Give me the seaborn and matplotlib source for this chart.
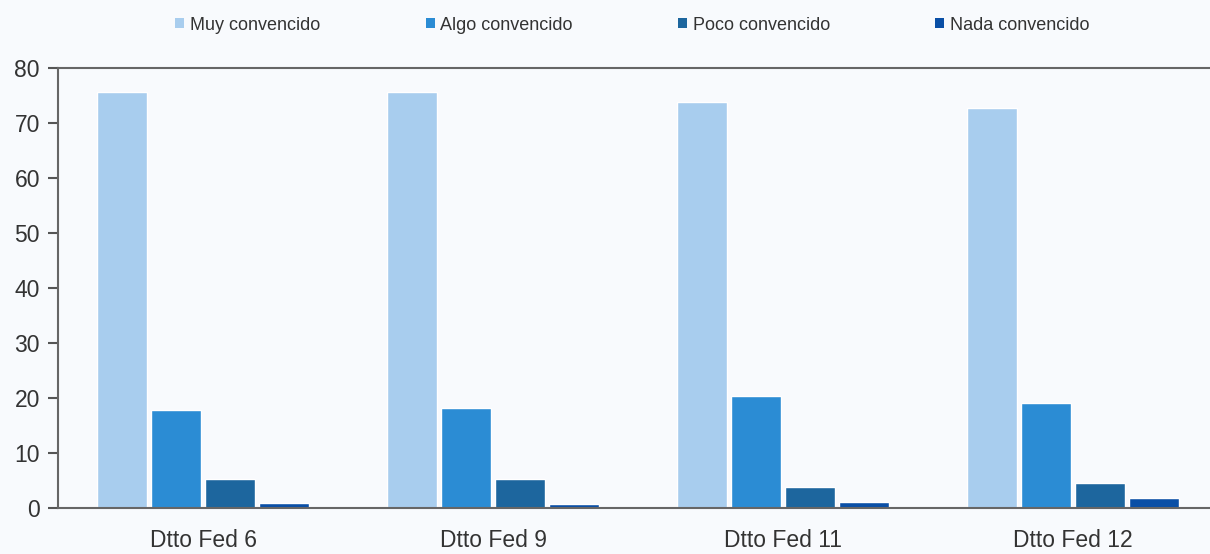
import pandas as pd
import matplotlib
matplotlib.use("Agg")
import matplotlib.pyplot as plt
import seaborn as sns
from matplotlib.patches import Patch
from matplotlib.ticker import FixedLocator

# Data
districts = ["Dtto Fed 6", "Dtto Fed 9", "Dtto Fed 11", "Dtto Fed 12"]
niveles = ["Muy convencido", "Algo convencido", "Poco convencido", "Nada convencido"]
muy = [75.6, 75.6, 73.8, 72.7]
algo = [17.8, 18.1, 20.4, 19.1]
poco = [5.2, 5.2, 3.9, 4.5]
nada = [1.0, 0.7, 1.1, 1.9]
colores = ["#A8CDEE", "#2B8CD4", "#1D669E", "#0A4FA6"]

rows = []
for serie, vals in zip(niveles, [muy, algo, poco, nada]):
    for d, v in zip(districts, vals):
        rows.append({"Distrito": d, "Nivel": serie, "Valor": v})
df = pd.DataFrame(rows)

sns.set_style("white")
plt.rcParams["font.family"] = ["Liberation Sans", "DejaVu Sans"]
bg = "#F8FAFD"

fig = plt.figure(figsize=(12.1, 5.54), dpi=100, facecolor=bg)
ax = fig.add_axes([58 / 1210, 46 / 554, 1160 / 1210, 440 / 554], facecolor=bg)

sns.barplot(data=df, x="Distrito", y="Valor", hue="Nivel", order=districts,
            hue_order=niveles, palette=colores, width=0.745, gap=0.06,
            saturation=1, ax=ax, legend=False)

ax.set_ylim(0, 80)
ax.set_xlim(-0.5, 3.5)
ax.set_yticks(range(0, 81, 10))
ax.set_xlabel("")
ax.set_ylabel("")

# group separators as minor ticks
ax.xaxis.set_minor_locator(FixedLocator([0.5, 1.5, 2.5]))
ax.tick_params(axis="x", which="major", length=0, labelsize=16.5, pad=15, colors="#333333")
ax.tick_params(axis="x", which="minor", length=6, width=1.5, color="#555555", direction="out")
ax.tick_params(axis="y", which="major", length=7, width=1.5, color="#555555",
               labelsize=16.5, pad=6, labelcolor="#333333", left=True)

for side in ["left", "bottom", "top"]:
    ax.spines[side].set_visible(True)
    ax.spines[side].set_color("#666666")
    ax.spines[side].set_linewidth(1.5)
ax.spines["right"].set_visible(False)

handles = [Patch(facecolor=c, edgecolor="none") for c in colores]
fig.legend(handles, niveles, loc="center left", bbox_to_anchor=(159 / 1210, 1 - 25 / 554),
           ncol=4, frameon=False, fontsize=13, handlelength=0.5, handleheight=0.5,
           handletextpad=0.3, columnspacing=5.85, labelcolor="#333333")

fig.savefig("out.png", dpi=100, facecolor=bg)
